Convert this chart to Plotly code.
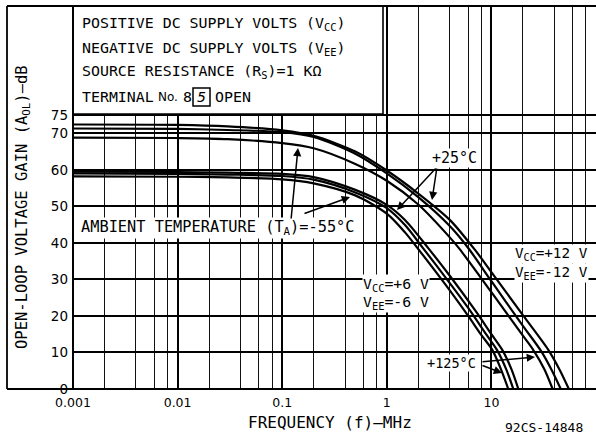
import plotly.graph_objects as go

# ---- data (frequency in MHz, gain in dB) ----
# Vcc=+12 V / Vee=-12 V group
f_12_top = [0.001, 0.01, 0.03, 0.1, 0.2, 0.5, 1, 2, 4, 7, 10, 20, 35, 45, 55]
g_12_top = [72.4, 72.3, 71.9, 70.8, 69.3, 65.0, 59.8, 53.5, 46.3, 38.0, 32.0, 20.2, 10.7, 5.2, 0]
f_12_mid = [0.001, 0.01, 0.03, 0.1, 0.2, 0.5, 1, 2, 4, 6, 10, 20, 30, 38, 46]
g_12_mid = [71.3, 71.2, 70.9, 70.3, 69.0, 64.4, 59.0, 52.5, 44.6, 38.6, 29.5, 17.3, 10.3, 5.0, 0]
f_12_low = [0.001, 0.01, 0.03, 0.1, 0.2, 0.5, 1, 2, 4, 5, 10, 20, 25, 32, 38.5]
g_12_low = [68.8, 68.7, 68.4, 67.3, 65.9, 61.6, 57.0, 50.5, 41.5, 38.2, 26.5, 14.6, 10.8, 5.5, 0]
# Vcc=+6 V / Vee=-6 V group
f_6_top = [0.001, 0.01, 0.03, 0.1, 0.2, 0.5, 1, 1.5, 2.5, 4, 7, 10, 12.7, 15.5, 18.1]
g_6_top = [59.5, 59.4, 59.2, 58.9, 58.0, 54.5, 50.4, 46.2, 38.5, 31.0, 21.5, 15.0, 10.7, 5.5, 0]
f_6_mid = [0.001, 0.01, 0.03, 0.1, 0.2, 0.5, 1, 1.5, 2.2, 4, 6, 9, 11.3, 13.8, 16.2]
g_6_mid = [59.0, 58.9, 58.7, 58.3, 57.3, 53.8, 49.5, 44.8, 38.7, 29.0, 22.2, 14.8, 10.7, 5.5, 0]
f_6_low = [0.001, 0.01, 0.03, 0.1, 0.2, 0.5, 1, 1.5, 2, 4, 6, 8, 10.2, 12.3, 14.5]
g_6_low = [58.2, 58.1, 57.9, 57.4, 56.3, 53.0, 48.0, 42.8, 38.3, 27.0, 20.0, 14.8, 10.7, 5.5, 0]

x_major = [0.001, 0.01, 0.1, 1, 10, 100]
x_labels = ["0.001", "0.01", "0.1", "1", "10", "100"]
x_minor = [m * d for d in [0.001, 0.01, 0.1, 1, 10] for m in (2, 4, 6, 8)]
y_ticks = [0, 10, 20, 30, 40, 50, 60, 70, 75]

FONT = "DejaVu Sans"
MONO = "DejaVu Sans Mono"
W, H = 596, 436
L, R, T, B = 73, 0, 6, 47
PW, PH = W - L - R, H - T - B
Y_TOP = 75 * PH / 274.0  # 0..75 dB spans 274 px


def px(xp):
    return (xp - L) / PW


def py(yp):
    return (H - B - yp) / PH


fig = go.Figure()
for f, g in [(f_12_top, g_12_top), (f_12_mid, g_12_mid), (f_12_low, g_12_low),
             (f_6_top, g_6_top), (f_6_mid, g_6_mid), (f_6_low, g_6_low)]:
    fig.add_trace(go.Scatter(x=f, y=g, mode="lines", showlegend=False,
                             line=dict(color="black", width=2.2, shape="spline", smoothing=0.8),
                             hoverinfo="skip"))

fig.update_layout(
    width=W, height=H, margin=dict(l=L, r=R, t=T, b=B),
    paper_bgcolor="white", plot_bgcolor="white",
    font=dict(family=FONT, color="black", size=13),
    xaxis=dict(type="log", range=[-3, 2], tickvals=x_major, ticktext=x_labels,
               showgrid=True, gridcolor="#000", gridwidth=2, zeroline=False,
               ticks="", showline=False, tickfont=dict(size=12.5), automargin=False,
               ticklabelstandoff=4,
               minor=dict(tickvals=x_minor, showgrid=True, gridcolor="#111", gridwidth=1.3, ticks="")),
    yaxis=dict(range=[0, Y_TOP], tickvals=y_ticks, showgrid=True, gridcolor="#000",
               gridwidth=1.5, zeroline=False, ticks="", showline=False, automargin=False,
               tickfont=dict(size=13.5), ticklabelstandoff=4),
)

shapes = []
# legend box (white) in the top-left corner
shapes.append(dict(type="rect", xref="paper", yref="paper", x0=0, x1=px(383), y0=py(114), y1=1.0,
                   fillcolor="white", line=dict(color="black", width=1.6), layer="above"))
# outer frame: left and top
shapes.append(dict(type="line", xref="paper", yref="paper", x0=px(7), x1=px(7), y0=0, y1=1,
                   line=dict(color="black", width=1.8), layer="above"))
shapes.append(dict(type="line", xref="paper", yref="paper", x0=px(7), x1=1, y0=1, y1=1,
                   line=dict(color="black", width=1.8), layer="above"))
# bottom axis line, extended left to frame
shapes.append(dict(type="line", xref="paper", yref="paper", x0=px(7), x1=1, y0=0, y1=0,
                   line=dict(color="black", width=2.2), layer="above"))
# left axis line
shapes.append(dict(type="line", xref="paper", yref="paper", x0=0, x1=0, y0=0, y1=1,
                   line=dict(color="black", width=2), layer="above"))
# box around terminal number
shapes.append(dict(type="rect", xref="paper", yref="paper", x0=px(193), x1=px(210), y0=py(106), y1=py(88),
                   line=dict(color="black", width=1.5), layer="above"))
fig.update_layout(shapes=shapes)

ann = []


def text(s, x, y, xanchor="left", size=14, bg=None, angle=0, family=MONO):
    d = dict(text=s, xref="paper", yref="paper", x=px(x), y=py(y), xanchor=xanchor,
             yanchor="middle", showarrow=False, font=dict(family=family, size=size, color="black"),
             textangle=angle, borderpad=0)
    if bg:
        d["bgcolor"] = bg
    ann.append(d)


def arrow(tail, tip):
    ann.append(dict(text="", xref="paper", yref="paper", x=px(tip[0]), y=py(tip[1]),
                    ax=tail[0] - tip[0], ay=tail[1] - tip[1], showarrow=True,
                    arrowhead=2, arrowsize=1.1, arrowwidth=1.5, arrowcolor="black", standoff=0))


text("POSITIVE DC SUPPLY VOLTS (V<sub>CC</sub>)", 81, 23, size=14.9)
text("NEGATIVE DC SUPPLY VOLTS (V<sub>EE</sub>)", 81, 48, size=14.9)
text("SOURCE RESISTANCE (R<sub>S</sub>)=1 KΩ", 81, 72, size=14.9)
text("TERMINAL", 81, 97, size=14.9)
text("No.", 157, 97, size=12, family=FONT)
text("8", 182, 97, size=14.9)
text("<i>5</i>", 201.5, 97, xanchor="center", size=14, family=FONT)
text("OPEN", 214, 97, size=14.9)

text("AMBIENT TEMPERATURE (T<sub>A</sub>)=-55°C", 80, 228, bg="white", size=15.3)
text("+25°C", 431, 158, bg="white", size=15)
text("V<sub>CC</sub>=+12 V", 514, 254, bg="white", size=14.3)
text("V<sub>EE</sub>=-12 V", 514, 273, bg="white", size=14.3)
text("V<sub>CC</sub>=+6 V", 362, 284, bg="white", size=14.8)
text("V<sub>EE</sub>=-6 V", 362, 302, bg="white", size=14.8)
text("+125°C", 426, 363, bg="white", size=13.5)
text("FREQUENCY (f)—MHz", 330, 422, xanchor="center", size=16)
text("92CS-14848", 544, 427, xanchor="center", size=13)
text("OPEN-LOOP VOLTAGE GAIN (A<sub>OL</sub>)—dB", 23, 207, xanchor="center", size=15.5, angle=-90)

arrow((291, 220), (298, 148))
arrow((303, 214), (350, 197))
arrow((437, 167), (397, 210))
arrow((437, 167), (432, 200))
arrow((481, 362), (535, 357))
arrow((481, 365), (502, 373))

fig.update_layout(annotations=ann)
fig.write_html("out.html", config={"displayModeBar": False},
               post_script="document.body.style.margin='0';document.body.style.padding='0';"
                           "document.body.style.overflow='hidden';")
